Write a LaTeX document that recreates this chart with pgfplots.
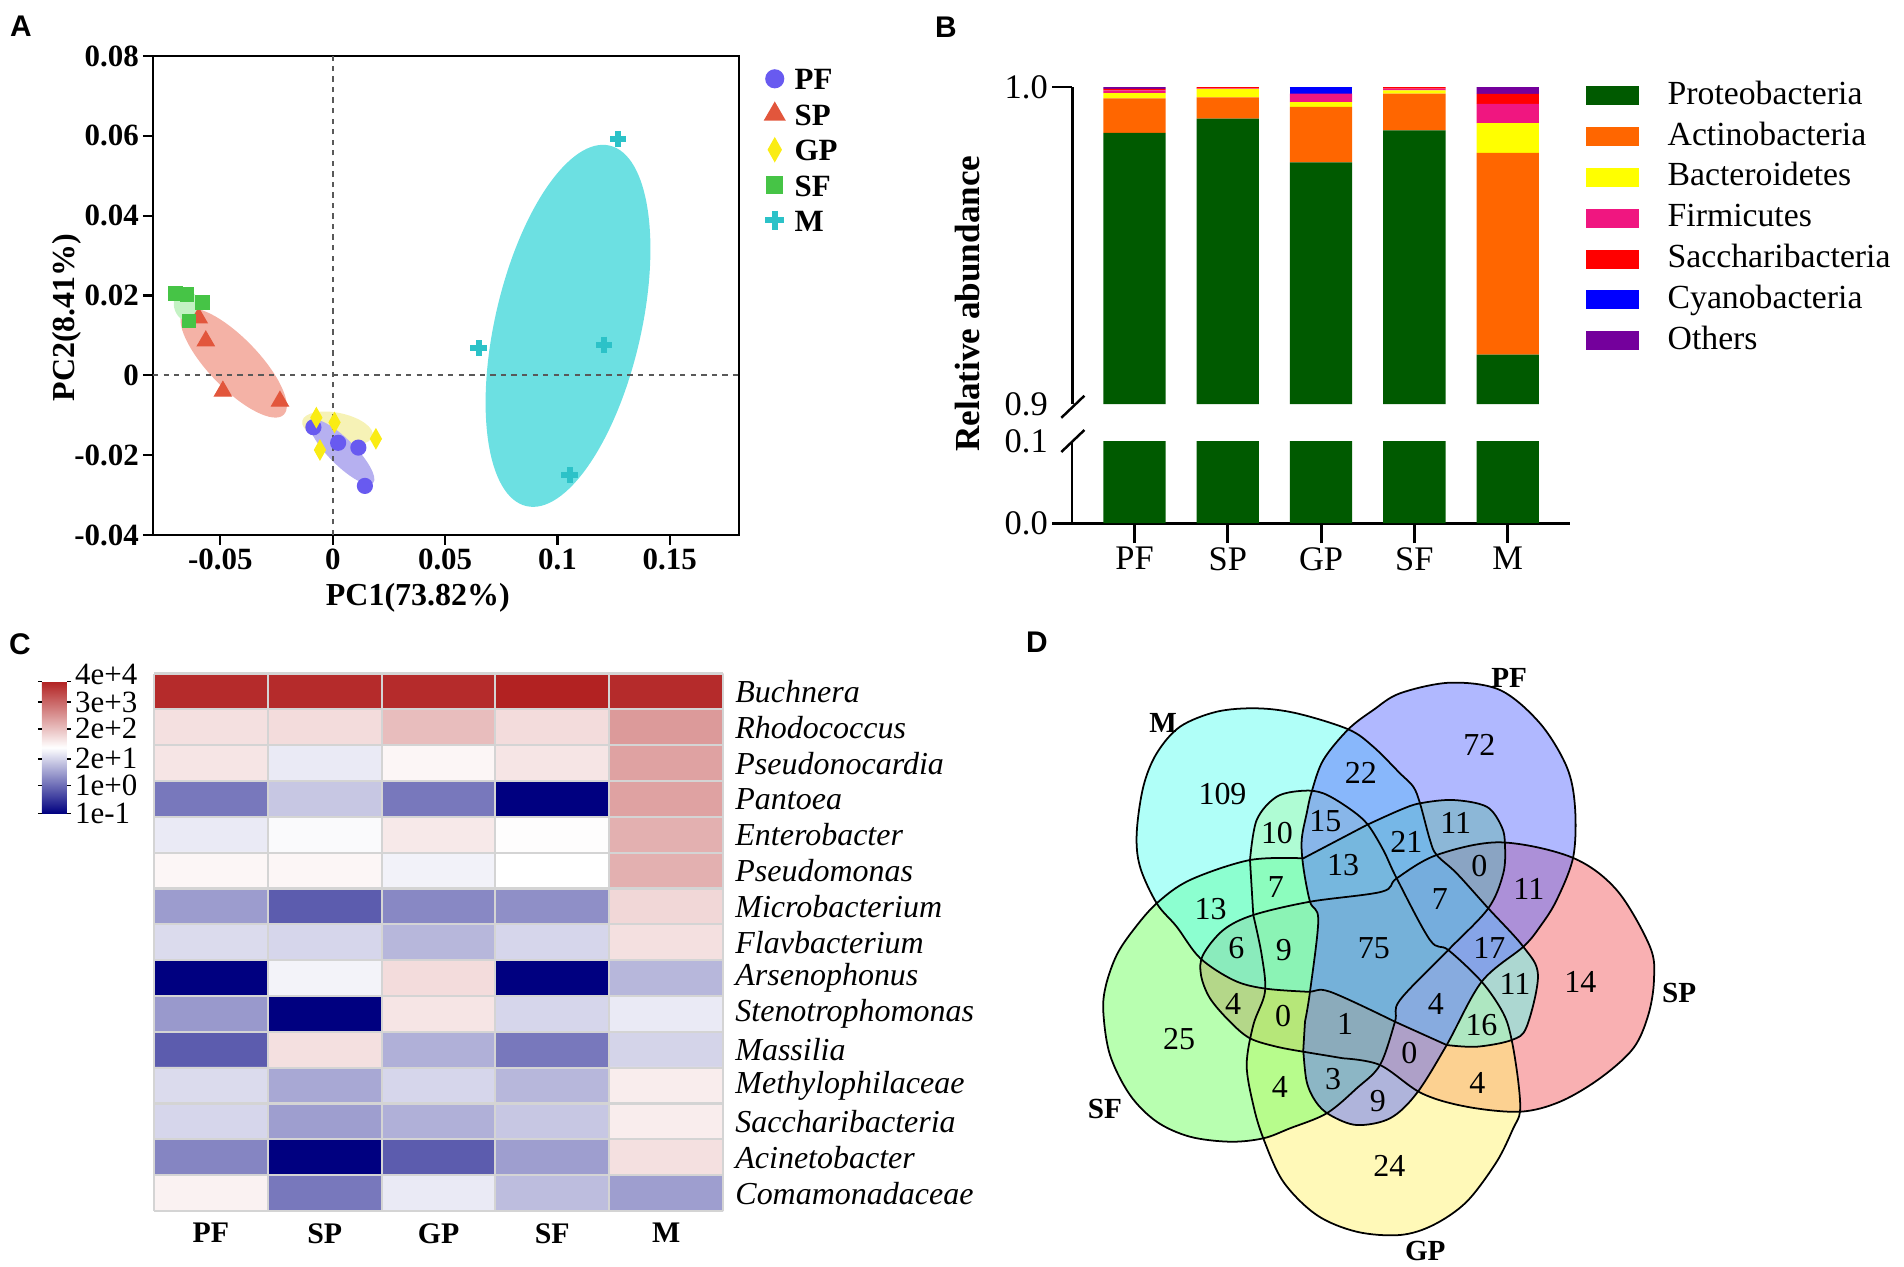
\documentclass[border=0pt]{standalone}
\usepackage{fontspec}
\setmainfont{Liberation Serif}
\newfontfamily\lsans{Liberation Sans}
\usepackage{pgfplots}
\usepackage{pgfplotstable}
\pgfplotsset{compat=1.18}

\newcommand{\fs}[1]{\fontsize{#1}{#1}\selectfont}

% A: PCA
\definecolor{aPF}{RGB}{104,90,240}
\definecolor{aSP}{RGB}{226,86,60}
\definecolor{aGP}{RGB}{250,236,20}
\definecolor{aSF}{RGB}{70,196,70}
\definecolor{aM}{RGB}{44,194,200}
\definecolor{ePF}{RGB}{182,176,240}
\definecolor{eSP}{RGB}{244,178,166}
\definecolor{eGP}{RGB}{246,242,182}
\definecolor{eSF}{RGB}{196,242,196}
\definecolor{eM}{RGB}{108,224,226}
% B: phyla
\definecolor{bPro}{RGB}{0,90,0}
\definecolor{bAct}{RGB}{255,102,0}
\definecolor{bBac}{RGB}{255,255,0}
\definecolor{bFir}{RGB}{240,22,128}
\definecolor{bSac}{RGB}{255,0,0}
\definecolor{bCya}{RGB}{0,0,255}
\definecolor{bOth}{RGB}{116,0,156}
% D: venn
\definecolor{vM}{RGB}{97,255,241}
\definecolor{vPF}{RGB}{97,113,255}
\definecolor{vSP}{RGB}{243,97,101}
\definecolor{vGP}{RGB}{255,243,113}
\definecolor{vSF}{RGB}{113,255,97}

\pgfplotsset{
  alegend/.style={legend image code/.code={\draw[##1, every mark/.append style={scale=1.2}] plot coordinates {(0.1cm,0cm)};}},
  blegend/.style={legend image code/.code={\fill[##1] (0cm,-0.095cm) rectangle (0.53cm,0.095cm);}},
  vset/.style={smooth, tension=0.55},
}

\pgfplotstableread{
x y
-0.0086 -0.0130
0.0024 -0.0169
0.0114 -0.0181
0.0143 -0.0277
}\pcaPF
\pgfplotstableread{
x y
-0.0597 0.0144
-0.0565 0.0086
-0.0489 -0.0040
-0.0235 -0.0065
}\pcaSP
\pgfplotstableread{
x y
-0.0073 -0.0106
0.0008 -0.0118
0.0192 -0.0159
-0.0057 -0.0187
}\pcaGP
\pgfplotstableread{
x y
-0.0700 0.0205
-0.0649 0.0202
-0.0581 0.0183
-0.0640 0.0136
}\pcaSF
\pgfplotstableread{
x y
0.1270 0.0592
0.0649 0.0068
0.1208 0.0077
0.1054 -0.0250
}\pcaM

\pgfplotstableread{
x Pro Act Bac Fir Sac Cya Oth
0 0.9855 0.0109 0.0017 0.0008 0.0005 0.0000 0.0006
1 0.9900 0.0067 0.0027 0.0002 0.0004 0.0000 0.0000
2 0.9762 0.0175 0.0015 0.0027 0.0000 0.0020 0.0001
3 0.9863 0.0116 0.0010 0.0006 0.0005 0.0000 0.0000
4 0.9156 0.0636 0.0094 0.0061 0.0031 0.0000 0.0022
}\phylum

% heatmap, colour position 0 = navy, 0.5 = white, 1 = red
\pgfplotstableread{
x y c
0 0 0.98
1 0 0.98
2 0 0.98
3 0 1.00
4 0 0.98
0 1 0.57
1 1 0.58
2 1 0.65
3 1 0.58
4 1 0.73
0 2 0.56
1 2 0.46
2 2 0.52
3 2 0.56
4 2 0.71
0 3 0.235
1 3 0.39
2 3 0.235
3 3 0.00
4 3 0.71
0 4 0.46
1 4 0.49
2 4 0.55
3 4 0.505
4 4 0.68
0 5 0.52
1 5 0.52
2 5 0.475
3 5 0.50
4 5 0.68
0 6 0.306
1 6 0.18
2 6 0.267
3 6 0.28
4 6 0.59
0 7 0.43
1 7 0.42
2 7 0.36
3 7 0.42
4 7 0.57
0 8 0.00
1 8 0.476
2 8 0.58
3 8 0.00
4 8 0.36
0 9 0.30
1 9 0.00
2 9 0.56
3 9 0.42
4 9 0.46
0 10 0.18
1 10 0.57
2 10 0.345
3 10 0.235
4 10 0.415
0 11 0.43
1 11 0.33
2 11 0.42
3 11 0.36
4 11 0.54
0 12 0.42
1 12 0.31
2 12 0.345
3 12 0.39
4 12 0.54
0 13 0.26
1 13 0.00
2 13 0.18
3 13 0.31
4 13 0.57
0 14 0.53
1 14 0.235
2 14 0.46
3 14 0.37
4 14 0.31
}\heat

% Venn outlines (pixel units)
\pgfplotstableread{
x y
1395.0 1021.7
1330.0 991.7
1306.7 991.7
1263.3 988.3
1233.3 980.0
1200.0 958.0
1176.7 926.7
1156.7 903.3
1140.0 866.7
1136.7 833.3
1143.3 786.7
1156.7 753.3
1180.0 726.7
1216.7 711.7
1256.7 708.3
1296.7 713.3
1348.3 729.3
1373.3 746.7
1400.0 773.3
1413.3 786.7
1420.0 803.3
1430.0 840.0
1436.7 855.0
1456.7 873.3
1488.3 908.3
1523.3 946.7
1538.0 975.0
1526.7 1026.7
1511.7 1040.0
1476.7 1046.7
1446.7 1045.0
}\shM
\pgfplotstableread{
x y
1305.0 1021.7
1310.0 991.7
1318.3 920.0
1310.0 901.7
1303.3 866.7
1301.7 840.0
1306.7 813.3
1311.7 791.7
1323.3 760.0
1348.3 729.3
1373.3 710.0
1400.0 693.3
1450.0 682.7
1500.0 690.0
1540.0 723.3
1566.7 766.7
1575.0 806.7
1573.3 856.7
1556.7 900.0
1540.0 926.7
1523.3 946.7
1481.7 981.7
1446.7 1045.0
1416.7 1093.3
1390.0 1118.3
1356.7 1125.0
1330.0 1115.0
1316.0 1102.0
1306.7 1081.7
1303.3 1050.0
}\shPF
\pgfplotstableread{
x y
1303.3 1051.7
1276.7 1046.7
1250.0 1038.3
1230.0 1021.7
1210.0 998.3
1201.0 975.0
1203.0 955.0
1223.3 930.0
1253.3 915.0
1310.0 901.7
1381.7 891.7
1396.7 878.3
1436.7 855.0
1500.0 842.3
1571.7 857.3
1616.7 890.0
1650.0 946.7
1654.0 980.0
1648.3 1015.0
1633.3 1048.3
1600.0 1078.3
1560.0 1101.7
1520.0 1111.7
1466.7 1106.7
1421.7 1093.3
1380.0 1065.0
1343.3 1058.3
}\shSP
\pgfplotstableread{
x y
1253.3 915.0
1261.7 955.0
1265.0 991.7
1253.3 1025.0
1246.7 1065.0
1253.3 1105.0
1263.3 1138.3
1283.3 1181.7
1316.7 1215.0
1356.7 1231.7
1400.0 1235.0
1433.3 1225.0
1466.7 1201.7
1496.7 1161.7
1513.3 1128.3
1520.0 1111.7
1518.3 1081.7
1511.7 1040.0
1503.3 1013.3
1481.7 981.7
1448.3 950.0
1430.0 940.0
1396.7 878.3
1383.3 850.0
1366.7 823.3
1346.7 806.7
1323.3 793.3
1303.3 790.7
1276.7 796.7
1256.7 820.0
1250.0 860.0
}\shGP
\pgfplotstableread{
x y
1303.3 858.3
1250.0 860.0
1190.0 880.0
1156.7 903.3
1133.3 930.0
1116.7 955.0
1106.0 985.0
1103.3 1011.7
1110.0 1055.0
1130.0 1095.0
1156.7 1121.7
1190.0 1136.7
1230.0 1141.7
1263.3 1138.3
1290.0 1128.3
1326.7 1113.3
1356.7 1088.3
1380.0 1065.0
1395.0 1021.7
1400.0 1000.0
1448.3 950.0
1488.3 908.3
1503.3 873.3
1505.0 845.0
1501.7 826.7
1486.7 806.7
1453.3 800.0
1420.0 803.3
1400.0 810.0
1366.7 825.0
}\shSF

\pgfplotstableread{
x y n
1222.5 794.2 109
1479.5 744.8 72
1360.9 772.5 22
1277.0 832.6 10
1325.3 821.1 15
1455.8 822.7 11
1406.3 841.7 21
1343.1 865.4 13
1479.5 866.2 0
1275.8 887.1 7
1210.6 908.9 13
1439.9 899.0 7
1528.9 889.1 11
1236.3 948.4 6
1283.8 950.4 9
1373.9 948.4 75
1489.4 948.4 17
1580.3 982.0 14
1515.1 984.0 11
1233.1 1003.8 4
1283.0 1015.6 0
1436.0 1003.8 4
1345.0 1023.6 1
1481.5 1025.5 16
1179.0 1039.4 25
1409.5 1053.2 0
1477.5 1082.9 4
1279.8 1086.8 4
1333.2 1078.9 3
1377.9 1100.7 9
1389.3 1165.9 24
}\venn
\pgfplotstableread{
x y s
1163.2 723.0 M
1509.1 677.6 PF
1679.2 993.1 SP
1425.3 1250.9 GP
1105.0 1108.6 SF
}\vennsets

\begin{document}
\begin{tikzpicture}
\path[use as bounding box] (0,0) rectangle (19.04,-12.67);

% ---------- A ----------
\begin{axis}[
  at={(1.53cm,-0.56cm)}, anchor=north west,
  width=5.86cm, height=4.79cm, scale only axis,
  xmin=-0.08, xmax=0.1808, ymin=-0.04, ymax=0.08,
  scaled x ticks=false, scaled y ticks=false,
  xtick={-0.05,0,0.05,0.1,0.15},
  xticklabels={-0.05,0,0.05,0.1,0.15},
  ytick={-0.04,-0.02,0,0.02,0.04,0.06,0.08},
  yticklabels={-0.04,-0.02,0,0.02,0.04,0.06,0.08},
  xtick pos=bottom, ytick pos=left, tick align=outside,
  major tick length=0.1cm,
  axis line style={line width=0.6pt},
  tick style={black, line width=0.6pt},
  tick label style={font=\bfseries\fs{8.8pt}, inner sep=1pt},
  xlabel={PC1(73.82\%)}, ylabel={PC2(8.41\%)},
  label style={font=\bfseries\fs{9.1pt}},
  xlabel style={at={(axis description cs:0.452,-0.1315)}, anchor=center},
  ylabel style={at={(axis description cs:-0.1468,0.454)}, anchor=center},
  legend style={at={(axis description cs:1.043,0.977)}, anchor=north west,
    draw=none, fill=none, font=\bfseries\fs{8.8pt}, row sep=3.7pt,
    column sep=0.1cm, inner sep=0pt,
    nodes={inner sep=0pt, text height=6.3pt, text depth=0pt}},
  legend cell align=left,
]
\fill[eM] (axis cs:0.1047,0.0124) ellipse [x radius=0.73cm, y radius=1.85cm, rotate=-13];
\fill[eSP] (axis cs:-0.0441,0.0031) ellipse [x radius=0.72cm, y radius=0.25cm, rotate=-46];
\fill[eSF] (axis cs:-0.0648,0.0174) ellipse [x radius=0.13cm, y radius=0.16cm, rotate=20];
\fill[eGP] (axis cs:0.0021,-0.0133) ellipse [x radius=0.36cm, y radius=0.155cm, rotate=-12];
\fill[ePF] (axis cs:0.0041,-0.0192) ellipse [x radius=0.44cm, y radius=0.13cm, rotate=-45];
\addplot[forget plot, black!65, line width=0.5pt, dash pattern=on 1.5pt off 1.5pt] coordinates {(0,-0.04) (0,0.08)};
\addplot[forget plot, black!65, line width=0.5pt, dash pattern=on 1.5pt off 1.5pt] coordinates {(-0.08,0) (0.1808,0)};
\addplot[only marks, mark=*, mark size=2.1pt, color=aPF, alegend] table {\pcaPF};
\addlegendentry{PF}
\addplot[only marks, mark=triangle*, mark size=2.7pt, color=aSP, alegend] table {\pcaSP};
\addlegendentry{SP}
\addplot[only marks, mark=diamond*, mark size=2.7pt, color=aGP, mark options={xscale=0.75}, alegend] table {\pcaGP};
\addlegendentry{GP}
\addplot[only marks, mark=square*, mark size=1.9pt, color=aSF, alegend] table {\pcaSF};
\addlegendentry{SF}
\addplot[only marks, mark=+, mark size=2.3pt, color=aM, mark options={line width=1.7pt}, alegend] table {\pcaM};
\addlegendentry{M}
\end{axis}

% ---------- B upper ----------
\begin{axis}[
  at={(10.72cm,-0.87cm)}, anchor=north west,
  width=4.98cm, height=3.17cm, scale only axis,
  xmin=-0.67, xmax=4.668, ymin=0.9, ymax=1.0,
  ybar stacked, bar width=0.623cm,
  axis x line=none, axis y line*=left, xtick=\empty,
  ytick={1}, yticklabels={1.0},
  extra y ticks={0.9}, extra y tick labels={0.9},
  extra y tick style={major tick length=0pt, yticklabel style={xshift=-0.2cm}},
  tick align=outside, major tick length=0.2cm,
  axis line style={line width=0.85pt},
  tick style={black, line width=0.85pt},
  tick label style={font=\fs{9.8pt}, inner sep=1pt},
  ylabel={Relative abundance},
  ylabel style={at={(axis description cs:-0.209,0.317)}, anchor=center, font=\bfseries\fs{10pt}},
  legend style={at={(axis description cs:1.03,1.025)}, anchor=north west,
    draw=none, fill=none, font=\fs{9.6pt}, row sep=2.4pt,
    column sep=0.29cm, inner sep=0pt,
    nodes={inner sep=0pt, text height=7pt, text depth=2.2pt}},
  legend cell align=left,
]
\addplot[fill=bPro, draw=none, blegend] table[x=x, y=Pro] {\phylum};
\addlegendentry{Proteobacteria}
\addplot[fill=bAct, draw=none, blegend] table[x=x, y=Act] {\phylum};
\addlegendentry{Actinobacteria}
\addplot[fill=bBac, draw=none, blegend] table[x=x, y=Bac] {\phylum};
\addlegendentry{Bacteroidetes}
\addplot[fill=bFir, draw=none, blegend] table[x=x, y=Fir] {\phylum};
\addlegendentry{Firmicutes}
\addplot[fill=bSac, draw=none, blegend] table[x=x, y=Sac] {\phylum};
\addlegendentry{Saccharibacteria}
\addplot[fill=bCya, draw=none, blegend] table[x=x, y=Cya] {\phylum};
\addlegendentry{Cyanobacteria}
\addplot[fill=bOth, draw=none, blegend] table[x=x, y=Oth] {\phylum};
\addlegendentry{Others}
\end{axis}

% ---------- B lower ----------
\begin{axis}[
  at={(10.72cm,-4.41cm)}, anchor=north west,
  width=4.98cm, height=0.82cm, scale only axis,
  xmin=-0.67, xmax=4.668, ymin=0, ymax=0.1,
  ybar stacked, bar width=0.623cm,
  axis x line*=bottom, axis y line*=left,
  xtick={0,1,2,3,4}, xticklabels={PF,SP,GP,SF,M},
  ytick={0}, yticklabels={0.0},
  extra y ticks={0.1}, extra y tick labels={0.1},
  extra y tick style={major tick length=0pt, yticklabel style={xshift=-0.2cm}},
  tick align=outside, major tick length=0.2cm,
  axis line style={line width=0.85pt},
  tick style={black, line width=0.85pt},
  tick label style={font=\fs{9.8pt}, inner sep=1pt},
]
\addplot[fill=bPro, draw=none] table[x=x, y=Pro] {\phylum};
\end{axis}
\draw[line width=0.7pt] (10.613,-4.178) -- (10.844,-3.957);
\draw[line width=0.7pt] (10.613,-4.52) -- (10.844,-4.30);

% ---------- C ----------
\begin{axis}[
  at={(1.54cm,-6.735cm)}, anchor=north west,
  width=5.69cm, height=5.375cm, scale only axis,
  xmin=-0.5, xmax=4.5, ymin=-0.5, ymax=14.5, y dir=reverse,
  enlargelimits=false,
  axis line style={draw=none},
  major tick length=0pt, minor tick length=0pt,
  xtick={0,1,2,3,4}, xticklabels={PF,SP,GP,SF,M}, xtick pos=bottom,
  ytick={0,1,...,14},
  yticklabels={Buchnera,Rhodococcus,Pseudonocardia,Pantoea,Enterobacter,Pseudomonas,Microbacterium,Flavbacterium,Arsenophonus,Stenotrophomonas,Massilia,Methylophilaceae,Saccharibacteria,Acinetobacter,Comamonadaceae},
  ytick pos=right, yticklabel pos=right,
  xticklabel style={font=\bfseries\fs{8.5pt}},
  yticklabel style={font=\itshape\fs{9.1pt}},
  minor xtick={-0.5,0.5,...,4.5}, minor ytick={-0.5,0.5,...,14.5},
  grid=minor, minor grid style={draw=black!17, line width=0.6pt},
  axis on top,
  colormap={heat}{rgb255=(0,0,128) rgb255=(255,255,255) rgb255=(178,34,34)},
  point meta min=0, point meta max=1,
  colorbar,
  colorbar style={at={(parent axis.north west)}, anchor=north east,
    xshift=-1.17cm, yshift=-0.08cm, width=0.25cm, height=1.32cm, scale only axis,
    ytick={0,0.21,0.414,0.641,0.845},
    yticklabels={1e-1,1e+0,2e+1,2e+2,3e+3},
    extra y ticks={1}, extra y tick labels={4e+4},
    extra y tick style={yticklabel style={yshift=0.066cm}},
    yticklabel pos=right, axis line style={draw=none},
    major tick length=0.04cm, tick align=outside,
    tick style={black, line width=0.4pt},
    yticklabel style={font=\fs{8.8pt}, inner xsep=1pt, inner ysep=0pt}},
]
\addplot[matrix plot*, mesh/cols=5, point meta=explicit] table[x=x, y=y, meta=c] {\heat};
\end{axis}

% ---------- D ----------
\begin{axis}[
  at={(10.9cm,-6.4cm)}, anchor=north west,
  width=6.2cm, height=6.27cm, scale only axis,
  xmin=1090, xmax=1710, ymin=640, ymax=1267, y dir=reverse,
  hide axis, clip=false,
]
\addplot[fill=vSP, fill opacity=0.5, draw=none, vset] table {\shSP} -- cycle;
\addplot[fill=vGP, fill opacity=0.5, draw=none, vset] table {\shGP} -- cycle;
\addplot[fill=vSF, fill opacity=0.5, draw=none, vset] table {\shSF} -- cycle;
\addplot[fill=vM, fill opacity=0.5, draw=none, vset] table {\shM} -- cycle;
\addplot[fill=vPF, fill opacity=0.5, draw=none, vset] table {\shPF} -- cycle;
\addplot[black, line width=0.5pt, vset] table {\shSP} -- cycle;
\addplot[black, line width=0.5pt, vset] table {\shGP} -- cycle;
\addplot[black, line width=0.5pt, vset] table {\shSF} -- cycle;
\addplot[black, line width=0.5pt, vset] table {\shM} -- cycle;
\addplot[black, line width=0.5pt, vset] table {\shPF} -- cycle;
\addplot[only marks, mark=none, nodes near coords, point meta=explicit symbolic,
  nodes near coords style={anchor=center, font=\fs{9.1pt}, text=black}] table[meta=n] {\venn};
\addplot[only marks, mark=none, nodes near coords, point meta=explicit symbolic,
  nodes near coords style={anchor=center, font=\bfseries\fs{8.3pt}, text=black}] table[meta=s] {\vennsets};
\end{axis}

% panel letters
\node[font=\lsans\bfseries\fs{8.5pt}] at (0.21,-0.265) {A};
\node[font=\lsans\bfseries\fs{8.5pt}] at (9.46,-0.27) {B};
\node[font=\lsans\bfseries\fs{8.5pt}] at (0.20,-6.44) {C};
\node[font=\lsans\bfseries\fs{8.5pt}] at (10.37,-6.42) {D};
\end{tikzpicture}
\end{document}
